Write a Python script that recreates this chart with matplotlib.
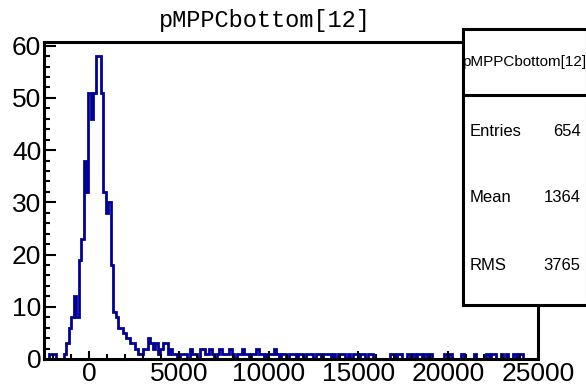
import numpy as np
import matplotlib.pyplot as plt
from matplotlib.ticker import MultipleLocator

# ---- data ----
title = "pMPPCbottom[12]"
x_min, x_max = -2500, 25000
n_bins = 200

counts = [
    0, 0, 1, 1, 1, 0, 0, 0, 1, 3, 6, 8, 12, 8, 19, 23, 38, 32, 51, 46,
    51, 58, 58, 51, 32, 28, 30, 18, 9, 8, 6, 6, 5, 4, 4, 3, 3, 2, 1, 1,
    2, 2, 4, 3, 2, 3, 1, 2, 3, 3, 1, 2, 1, 1, 0, 1, 1, 1, 0, 2,
    1, 1, 0, 2, 2, 1, 1, 2, 1, 0, 1, 2, 1, 1, 1, 2, 1, 0, 1, 1,
    2, 1, 1, 0, 1, 1, 2, 1, 1, 0, 1, 1, 1, 2, 1, 0, 1, 1, 0, 1,
    1, 1, 0, 1, 1, 0, 1, 1, 1, 0, 1, 1, 0, 1, 1, 1, 0, 1, 0, 1,
    1, 1, 0, 1, 0, 1, 1, 0, 1, 1, 0, 1, 1, 0, 0, 0, 0, 0, 0, 0,
    1, 1, 0, 1, 1, 0, 0, 1, 0, 1, 0, 1, 1, 0, 1, 0, 1, 0, 0, 0,
    0, 0, 1, 0, 1, 0, 0, 0, 0, 1, 0, 0, 0, 0, 1, 0, 0, 0, 0, 1,
    0, 1, 1, 0, 0, 1, 0, 1, 0, 0, 1, 0, 1, 1, 0, 0, 0, 0, 0, 0,
]

stat_names = ["Entries", "Mean", "RMS"]
stat_values = ["654", "1364", "3765"]

x_ticks = [0, 5000, 10000, 15000, 20000, 25000]
y_ticks = [0, 10, 20, 30, 40, 50, 60]

line_color = "#000099"
label_font = "Liberation Sans"

edges = np.linspace(x_min, x_max, n_bins + 1)

fig = plt.figure(figsize=(5.86, 3.88), dpi=100)
ax = fig.add_axes([44 / 586, 1 - 359 / 388, 494 / 586, 317 / 388])

ax.stairs(counts, edges, color=line_color, linewidth=2.0, baseline=0)

ax.set_xlim(x_min, x_max)
ax.set_ylim(0, 60.7)
ax.set_xticks(x_ticks)
ax.set_yticks(y_ticks)
ax.xaxis.set_minor_locator(MultipleLocator(1000))
ax.yaxis.set_minor_locator(MultipleLocator(2))
ax.tick_params(which="both", direction="in", top=False, right=False,
               width=1.5, labelsize=19, pad=2)
ax.tick_params(axis="y", which="major", length=8.5)
ax.tick_params(axis="y", which="minor", length=4.5)
ax.tick_params(axis="x", which="major", length=6)
ax.tick_params(axis="x", which="minor", length=3.5)
for lab in ax.get_xticklabels() + ax.get_yticklabels():
    lab.set_family(label_font)
for sp in ax.spines.values():
    sp.set_linewidth(2.2)

fig.text(265 / 586, 1 - 21 / 388, title, ha="center", va="center",
         family="Liberation Mono", fontsize=17)

# stats box
box = fig.add_axes([463 / 586, 1 - 305 / 388, 124 / 586, 276 / 388])
box.set_xticks([])
box.set_yticks([])
for sp in box.spines.values():
    sp.set_linewidth(2.2)
box.set_xlim(0, 1)
box.set_ylim(0, 1)
box.axhline((305 - 95) / 276, color="black", linewidth=2.2)
box.text(0.49, (305 - 62) / 276, title, ha="center", va="center",
         family=label_font, fontsize=11)
row_y = [131, 198, 266]
for name, val, yy in zip(stat_names, stat_values, row_y):
    box.text(0.05, (305 - yy) / 276, name, ha="left", va="center",
             family=label_font, fontsize=12)
    box.text(0.95, (305 - yy) / 276, val, ha="right", va="center",
             family=label_font, fontsize=12)

fig.savefig("out.png", dpi=100)
